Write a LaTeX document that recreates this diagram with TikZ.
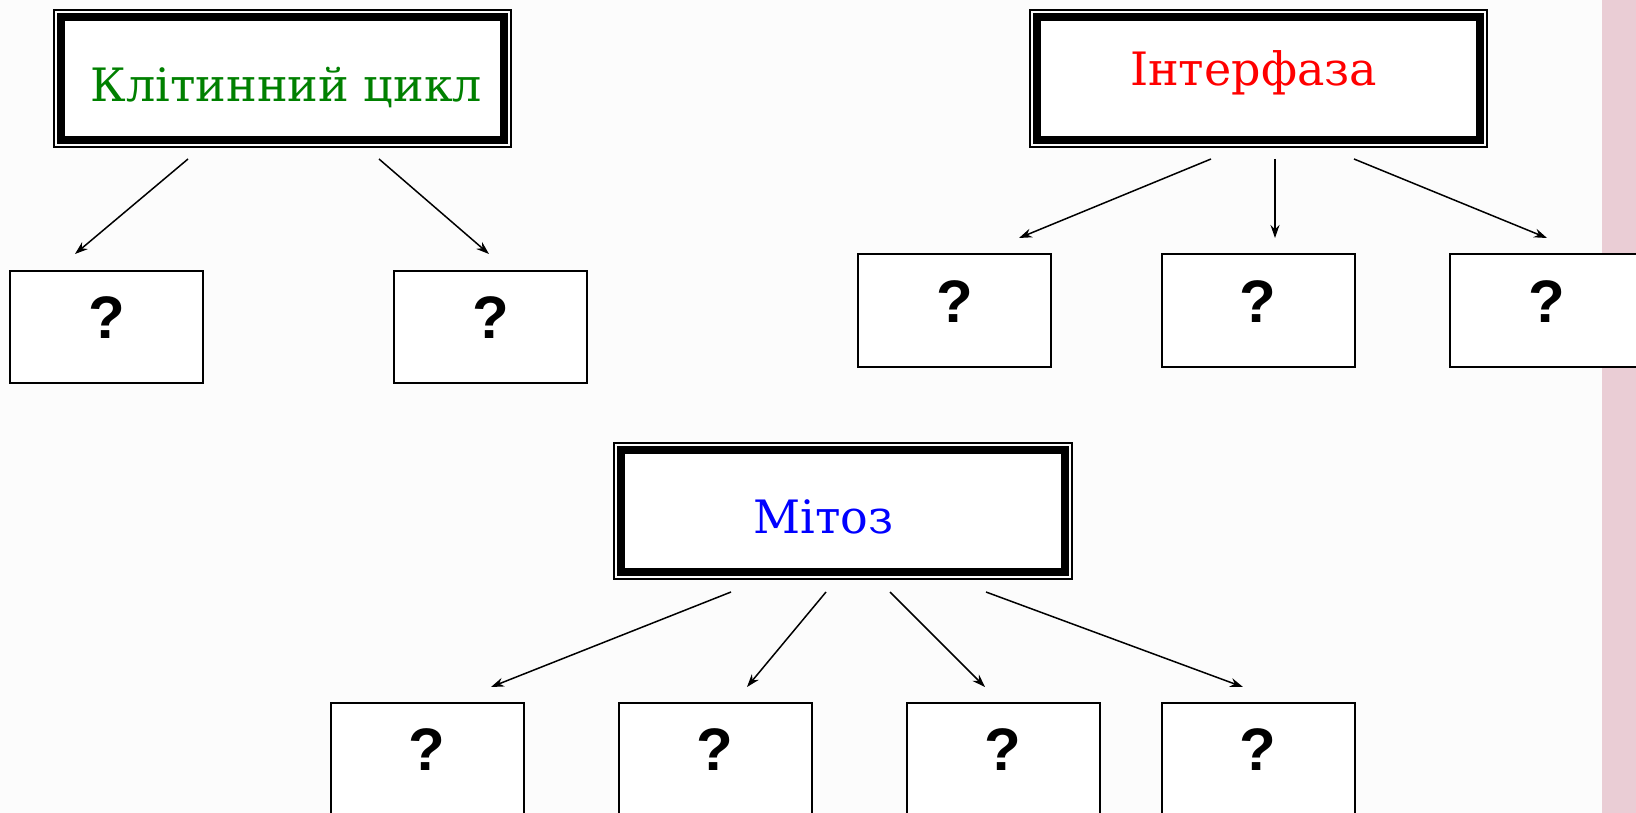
\documentclass[tikz,border=0pt]{standalone}
\usepackage{fontspec}
\setmainfont{DejaVu Serif}
\newfontfamily\qfont{Liberation Sans}
\usetikzlibrary{arrows.meta,calc}
\definecolor{titlegreen}{RGB}{0,128,0}
\definecolor{titlered}{RGB}{255,0,0}
\definecolor{titleblue}{RGB}{0,0,255}
\definecolor{pinkstrip}{RGB}{234,205,213}
\definecolor{bgcol}{RGB}{252,252,252}
\tikzset{
  titlebox/.style={draw=black, line width=8pt, fill=white, inner sep=0pt, outer sep=0pt,
    minimum width=443pt, minimum height=123pt},
  thinframe/.style={draw=black, line width=1.6pt},
  titletext/.style={anchor=base, inner sep=0pt, font=\fontsize{46}{50}\selectfont},
  qbox/.style={draw=black, line width=2pt, fill=white, inner sep=0pt, outer sep=0pt,
    minimum width=193pt, minimum height=113pt, text depth=18pt,
    font=\qfont\bfseries\fontsize{60}{62}\selectfont},
  arr/.style={draw=black, line width=1.5pt, -{Stealth[length=13pt,width=9pt]}}
}
\begin{document}
\begin{tikzpicture}[x=1pt,y=-1pt]
\useasboundingbox (0,0) rectangle (1636,813);
\fill[bgcol] (0,0) rectangle (1636,813);
\fill[pinkstrip] (1602,0) rectangle (1636,813);

% title boxes
\node[titlebox] (b1) at (282.5,78.5) {};
\draw[thinframe] ([shift={(-7pt,7pt)}]b1.north west) rectangle ([shift={(7pt,-7pt)}]b1.south east);
\node[titletext, text=titlegreen] (t1) at (286.5,102) {Клітинний цикл};

\node[titlebox] (b2) at (1258.5,78.5) {};
\draw[thinframe] ([shift={(-7pt,7pt)}]b2.north west) rectangle ([shift={(7pt,-7pt)}]b2.south east);
\node[titletext, text=titlered] (t2) at (1253.5,86) {Інтерфаза};

\node[titlebox, minimum width=444pt, minimum height=122pt] (b3) at (843,511) {};
\draw[thinframe] ([shift={(-7pt,7pt)}]b3.north west) rectangle ([shift={(7pt,-7pt)}]b3.south east);
\node[titletext, text=titleblue] (t3) at (823.5,533) {Мітоз};

% question boxes
\node[qbox, minimum height=112pt] (l1) at (106.5,327) {?};
\node[qbox, minimum height=112pt] (l2) at (490.5,327) {?};
\node[qbox] (r1) at (954.5,310.5) {?};
\node[qbox] (r2) at (1258,310.5) {?};
\node[qbox] (r3) at (1546.5,310.5) {?};
\node[qbox, minimum height=112pt] (m1) at (427,759) {?};
\node[qbox, minimum height=112pt] (m2) at (715,759) {?};
\node[qbox, minimum height=112pt] (m3) at (1003,759) {?};
\node[qbox, minimum height=112pt] (m4) at (1258,759) {?};

% arrows
\draw[arr] ([shift={(-94.5pt,-19pt)}]b1.south) -- ([shift={(-31.5pt,17pt)}]l1.north);
\draw[arr] ([shift={(96.5pt,-19pt)}]b1.south) -- ([shift={(-1.5pt,17pt)}]l2.north);

\draw[arr] ([shift={(-47.5pt,-19pt)}]b2.south) -- ([shift={(64.5pt,16pt)}]r1.north);
\draw[arr] ([shift={(16.5pt,-19pt)}]b2.south) -- ([shift={(17pt,16pt)}]r2.north);
\draw[arr] ([shift={(95.5pt,-19pt)}]b2.south) -- ([shift={(0.5pt,16pt)}]r3.north);

\draw[arr] ([shift={(-112pt,-20pt)}]b3.south) -- ([shift={(64pt,16pt)}]m1.north);
\draw[arr] ([shift={(-17pt,-20pt)}]b3.south) -- ([shift={(32pt,16pt)}]m2.north);
\draw[arr] ([shift={(47pt,-20pt)}]b3.south) -- ([shift={(-18pt,16pt)}]m3.north);
\draw[arr] ([shift={(143pt,-20pt)}]b3.south) -- ([shift={(-15pt,16pt)}]m4.north);
\end{tikzpicture}
\end{document}
